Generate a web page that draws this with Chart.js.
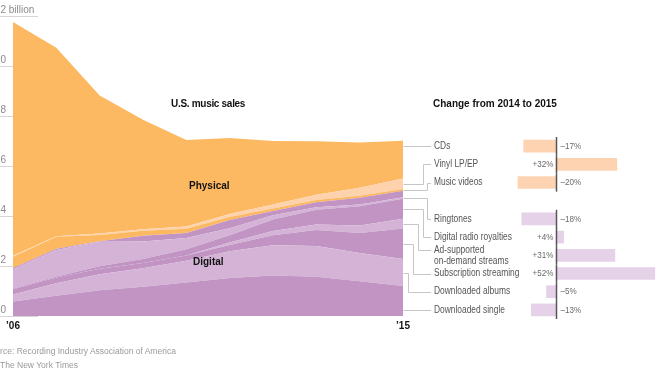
<!DOCTYPE html>
<html>
<head>
<meta charset="utf-8">
<script src="https://cdn.jsdelivr.net/npm/chart.js@4.4.1/dist/chart.umd.min.js"></script>
<style>
  html, body { margin: 0; padding: 0; background: #fff; overflow: hidden; }
  #wrap { position: relative; width: 670px; height: 377px; font-family: "Liberation Sans", Arial, sans-serif; }
  canvas { position: absolute; left: 0; top: 0; }
  .hd { position: absolute; font-size: 10px; line-height: 12px; font-weight: bold; color: #121212; white-space: nowrap; }
  .foot { position: absolute; font-size: 8.5px; line-height: 10px; color: #9a9a9a; white-space: nowrap; }
</style>
</head>
<body>
<div id="wrap">
  <canvas id="sales" width="670" height="377"></canvas>
  <canvas id="change" width="670" height="377"></canvas>
  <div class="hd" style="left:171px;top:98px;letter-spacing:-0.3px">U.S. music sales</div>
  <div class="hd" style="left:433px;top:98px">Change from 2014 to 2015</div>
  <div class="hd" style="left:189px;top:180px">Physical</div>
  <div class="hd" style="left:193px;top:256px">Digital</div>
  <div class="foot" style="left:-15px;top:346px">Source: Recording Industry Association of America</div>
  <div class="foot" style="left:0px;top:360px">The New York Times</div>
</div>
<script>
/* ─── Data (billions of dollars) ─────────────────────────────────────────── */
const years = ['2006', '2007', '2008', '2009', '2010', '2011', '2012', '2013', '2014', '2015'];
const yearTickLabels = ['’06', '', '', '', '', '', '', '', '', '’15'];
const yTicks = [0, 2, 4, 6, 8, 10, 12];

const downloadedSingle = [0.58, 0.81, 1.03, 1.17, 1.34, 1.52, 1.62, 1.57, 1.39, 1.20];
const downloadedAlbums = [0.28, 0.50, 0.64, 0.74, 0.87, 1.07, 1.21, 1.23, 1.13, 1.08];
const subscription     = [0.21, 0.23, 0.22, 0.21, 0.21, 0.25, 0.40, 0.64, 0.80, 1.22];
const adSupported      = [0.00, 0.00, 0.00, 0.00, 0.00, 0.10, 0.17, 0.22, 0.30, 0.39];
const digitalRadio     = [0.03, 0.04, 0.10, 0.16, 0.25, 0.29, 0.46, 0.59, 0.77, 0.80];
const ringtones        = [0.77, 1.06, 0.98, 0.70, 0.45, 0.28, 0.17, 0.10, 0.07, 0.06];
const otherDigital     = [0.05, 0.05, 0.02, 0.23, 0.20, 0.33, 0.17, 0.20, 0.27, 0.26];
const musicVideos      = [0.45, 0.48, 0.25, 0.20, 0.17, 0.12, 0.10, 0.09, 0.08, 0.07];
const vinyl            = [0.04, 0.02, 0.06, 0.06, 0.09, 0.12, 0.16, 0.21, 0.32, 0.42];
const cds              = [9.35, 7.54, 5.52, 4.38, 3.46, 3.04, 2.54, 2.14, 1.81, 1.51];

const changeRows   = ['CDs', 'Vinyl LP/EP', 'Music videos', '', 'Ringtones', 'Digital radio royalties',
                      ['Ad-supported', 'on-demand streams'], 'Subscription streaming', 'Downloaded albums', 'Downloaded single'];
const changeValues = [-17, 32, -20, null, -18, 4, 31, 52, -5, -13];

/* ─── Styles / layout ────────────────────────────────────────────────────── */
const ORANGE = '#fdb962', PEACH = '#fed2ad', PURPLE = '#c194c4', LILAC = '#d4b3d7';
const BAR_PHYS = '#fed3b1', BAR_DIG = '#e5d2e8';
const FONT = '"Liberation Sans", Arial, sans-serif';

// stack order, bottom to top
const stack = [
  { data: downloadedSingle, color: PURPLE },
  { data: downloadedAlbums, color: LILAC },
  { data: subscription,     color: PURPLE },
  { data: adSupported,      color: LILAC },
  { data: digitalRadio,     color: PURPLE },
  { data: ringtones,        color: LILAC },
  { data: otherDigital,     color: PURPLE },
  { data: musicVideos,      color: ORANGE },
  { data: vinyl,            color: PEACH },
  { data: cds,              color: ORANGE }
];
// which stack layer each label row points at, and where its leader bends
const rowLayer = [9, 8, 7, null, 5, 4, 3, 2, 1, 0];
const rowElbow = [0, 423, 427, 0, 427, 423, 418, 413, 408, 0];

// condensed text: the original face is narrower than anything installed
function squeezeText(ctx, text, x, y, align, sx) {
  ctx.save();
  ctx.translate(x, y);
  ctx.scale(sx, 1);
  ctx.textAlign = align;
  ctx.fillText(text, 0, 0);
  ctx.restore();
}

/* ─── Area chart ─────────────────────────────────────────────────────────── */
const axisText = {
  id: 'axisText',
  beforeDatasetsDraw(chart) {
    const { ctx, scales: { y } } = chart;
    ctx.save();
    ctx.strokeStyle = '#d6d6d6';
    ctx.lineWidth = 1;
    yTicks.forEach(v => {
      const py = Math.round(y.getPixelForValue(v)) + 0.5;
      ctx.beginPath(); ctx.moveTo(0, py); ctx.lineTo(38, py); ctx.stroke();
    });
    ctx.restore();
  },
  afterDatasetsDraw(chart) {
    const { ctx, scales: { x, y } } = chart;
    ctx.save();
    ctx.font = `10px ${FONT}`;
    ctx.fillStyle = '#8a8a8a';
    ctx.textBaseline = 'alphabetic';
    yTicks.forEach((v, i) => {
      const py = y.getPixelForValue(v) - 3;
      ctx.textAlign = 'right';
      ctx.fillText(String(v), 6, py);
      if (i === yTicks.length - 1) {
        ctx.textAlign = 'left';
        ctx.fillText(' billion', 6, py);
      }
    });
    ctx.font = `bold 10px ${FONT}`;
    ctx.fillStyle = '#121212';
    ctx.textAlign = 'center';
    yearTickLabels.forEach((t, i) => {
      if (t) ctx.fillText(t, x.getPixelForValue(i), y.getPixelForValue(0) + 13);
    });
    ctx.restore();
  }
};

const salesChart = new Chart(document.getElementById('sales'), {
  type: 'line',
  data: {
    labels: years,
    datasets: stack.map((s, i) => ({
      data: s.data,
      backgroundColor: s.color,
      borderWidth: 0,
      borderColor: 'rgba(0,0,0,0)',
      pointRadius: 0,
      tension: 0,
      fill: i === 0 ? 'origin' : '-1'
    }))
  },
  options: {
    responsive: false,
    animation: false,
    events: [],
    layout: { padding: { left: 13, right: 267, top: 16, bottom: 61 } },
    scales: {
      x: { display: false, offset: false },
      y: { display: false, stacked: true, min: 0, max: 12 }
    },
    plugins: { legend: { display: false }, tooltip: { enabled: false } }
  },
  plugins: [axisText]
});

/* ─── Change bars, labels and leaders ────────────────────────────────────── */
const changeDeco = {
  id: 'changeDeco',
  afterDatasetsDraw(chart) {
    const { ctx, scales: { x, y } } = chart;
    const zx = Math.round(x.getPixelForValue(0)) + 0.5;
    const half = (y.getPixelForValue(1) - y.getPixelForValue(0)) / 2;
    ctx.save();

    // zero line
    ctx.strokeStyle = '#555';
    ctx.lineWidth = 1.5;
    changeValues.forEach((v, i) => {
      if (v === null) return;
      const cy = y.getPixelForValue(i);
      ctx.beginPath(); ctx.moveTo(zx, cy - half); ctx.lineTo(zx, cy + half); ctx.stroke();
    });

    // value labels
    ctx.font = `9.5px ${FONT}`;
    ctx.fillStyle = '#6a6a6a';
    ctx.textBaseline = 'middle';
    changeValues.forEach((v, i) => {
      if (v === null) return;
      const cy = y.getPixelForValue(i);
      if (v > 0) squeezeText(ctx, `+${v}%`, zx - 3, cy, 'right', 0.85);
      else squeezeText(ctx, `–${Math.abs(v)}%`, zx + 4, cy, 'left', 0.85);
    });

    // category labels
    ctx.font = `10px ${FONT}`;
    ctx.fillStyle = '#555';
    const labelY = [];
    changeRows.forEach((t, i) => {
      const cy = y.getPixelForValue(i);
      if (Array.isArray(t)) {
        squeezeText(ctx, t[0], 434, cy - 5.5, 'left', 0.84);
        squeezeText(ctx, t[1], 434, cy + 5.5, 'left', 0.84);
        labelY[i] = cy - 5.5;
      } else {
        if (t) squeezeText(ctx, t, 434, cy, 'left', 0.84);
        labelY[i] = cy;
      }
    });

    // leaders from the 2015 edge of the area chart
    const sx = salesChart.scales.x, sy = salesChart.scales.y;
    const last = years.length - 1;
    const x0 = Math.round(sx.getPixelForValue(last)) + 0.5;
    let cum = 0;
    const spans = stack.map(s => { const lo = cum; cum += s.data[last]; return [lo, cum]; });
    ctx.strokeStyle = '#c6c6c6';
    ctx.lineWidth = 1;
    rowLayer.forEach((li, i) => {
      if (li === null) return;
      const top = sy.getPixelForValue(spans[li][1]);
      const bot = sy.getPixelForValue(spans[li][0]);
      const ly = Math.round(labelY[i]) + 0.5;
      ctx.beginPath();
      if (ly > top + 1 && ly < bot - 1) {
        ctx.moveTo(x0, ly); ctx.lineTo(431, ly);
      } else {
        const my = Math.round((top + bot) / 2) + 0.5;
        const ex = rowElbow[i] + 0.5;
        ctx.moveTo(x0, my); ctx.lineTo(ex, my); ctx.lineTo(ex, ly); ctx.lineTo(431, ly);
      }
      ctx.stroke();
    });
    ctx.restore();
  }
};

new Chart(document.getElementById('change'), {
  type: 'bar',
  data: {
    labels: changeRows.map(r => Array.isArray(r) ? r.join(' ') : r),
    datasets: [{
      data: changeValues,
      backgroundColor: changeValues.map((v, i) => i < 3 ? BAR_PHYS : BAR_DIG),
      borderWidth: 0,
      barThickness: 12
    }]
  },
  options: {
    indexAxis: 'y',
    responsive: false,
    animation: false,
    events: [],
    layout: { padding: { left: 480, right: 0, top: 137, bottom: 58 } },
    scales: {
      x: { display: false, min: -40, max: 60 },
      y: { display: false }
    },
    plugins: { legend: { display: false }, tooltip: { enabled: false } }
  },
  plugins: [changeDeco]
});
</script>
</body>
</html>
